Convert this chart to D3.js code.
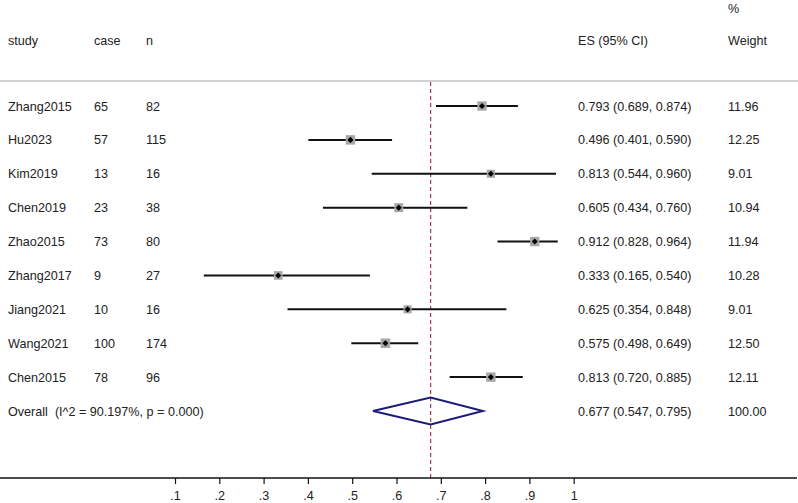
<!DOCTYPE html>
<html><head><meta charset="utf-8">
<script src="https://cdn.jsdelivr.net/npm/d3@7"></script>
<style>body{margin:0;background:#fff}svg{display:block;font-family:"Liberation Sans",Arial,sans-serif}</style>
</head><body>
<script>
const studies = ["Zhang2015","Hu2023","Kim2019","Chen2019","Zhao2015","Zhang2017","Jiang2021","Wang2021","Chen2015"];
const cases = [65,57,13,23,73,9,10,100,78];
const ns = [82,115,16,38,80,27,16,174,96];
const es = [0.793,0.496,0.813,0.605,0.912,0.333,0.625,0.575,0.813];
const lo = [0.689,0.401,0.544,0.434,0.828,0.165,0.354,0.498,0.720];
const hi = [0.874,0.590,0.960,0.760,0.964,0.540,0.848,0.649,0.885];
const weights = [11.96,12.25,9.01,10.94,11.94,10.28,9.01,12.50,12.11];
const overall = {label:"Overall  (I^2 = 90.197%, p = 0.000)", es:0.677, lo:0.547, hi:0.795, weight:100.00};
const tickValues = [0.1,0.2,0.3,0.4,0.5,0.6,0.7,0.8,0.9,1];
const tickLabels = [".1",".2",".3",".4",".5",".6",".7",".8",".9","1"];

const W=798,H=503, FS=12.6;
const svg=d3.select("body").append("svg").attr("width",W).attr("height",H);
const x=d3.scaleLinear().domain([0.1,1]).range([175,573.7]);
const rows=[...studies,"Overall"];
const y=d3.scalePoint().domain(rows).range([106,411]);
const axisY=478, topY=81;
const txt="#222";

// header
const hdr=svg.append("g").attr("font-size",FS).attr("fill",txt);
hdr.append("text").attr("x",8).attr("y",44.5).text("study");
hdr.append("text").attr("x",94).attr("y",44.5).text("case");
hdr.append("text").attr("x",146).attr("y",44.5).text("n");
hdr.append("text").attr("x",578).attr("y",44.5).text("ES (95% CI)");
hdr.append("text").attr("x",728).attr("y",13).text("%");
hdr.append("text").attr("x",728).attr("y",44.5).text("Weight");
svg.append("line").attr("x1",0).attr("x2",798).attr("y1",topY).attr("y2",topY).attr("stroke","#d0d0d0").attr("stroke-width",2);

// reference line
svg.append("line").attr("x1",x(overall.es)).attr("x2",x(overall.es)).attr("y1",topY+1).attr("y2",axisY)
  .attr("stroke","#a83c4c").attr("stroke-width",1.2).attr("stroke-dasharray","4,3");

const f3=d3.format(".3f"), f2=d3.format(".2f");
const g=svg.append("g");
studies.forEach((s,i)=>{
  const yy=y(s);
  g.append("line").attr("x1",x(lo[i])).attr("x2",x(hi[i])).attr("y1",yy).attr("y2",yy).attr("stroke","#111").attr("stroke-width",2);
  const side=2.7*Math.sqrt(weights[i]);
  g.append("rect").attr("x",x(es[i])-side/2).attr("y",yy-side/2).attr("width",side).attr("height",side).attr("fill","#a8a8a8");
  g.append("path").attr("d",d3.symbol(d3.symbolDiamond2,24)()).attr("transform",`translate(${x(es[i])},${yy})`).attr("fill","#000");
  const t=g.append("g").attr("font-size",FS).attr("fill",txt);
  t.append("text").attr("x",8).attr("y",yy+4.5).text(s);
  t.append("text").attr("x",94).attr("y",yy+4.5).text(cases[i]);
  t.append("text").attr("x",146).attr("y",yy+4.5).text(ns[i]);
  t.append("text").attr("x",578).attr("y",yy+4.5).text(`${f3(es[i])} (${f3(lo[i])}, ${f3(hi[i])})`);
  t.append("text").attr("x",728).attr("y",yy+4.5).text(f2(weights[i]));
});
// overall
const oy=y("Overall");
g.append("path").attr("d",`M${x(overall.lo)},${oy}L${x(overall.es)},${oy-13.5}L${x(overall.hi)},${oy}L${x(overall.es)},${oy+13.5}Z`)
  .attr("fill","none").attr("stroke","#1c1c78").attr("stroke-width",2);
const ot=g.append("g").attr("font-size",FS).attr("fill",txt);
ot.append("text").attr("x",8).attr("y",oy+4.5).style("white-space","pre").text(overall.label);
ot.append("text").attr("x",578).attr("y",oy+4.5).text(`${f3(overall.es)} (${f3(overall.lo)}, ${f3(overall.hi)})`);
ot.append("text").attr("x",728).attr("y",oy+4.5).text(f2(overall.weight));

// axis
svg.append("line").attr("x1",0).attr("x2",797).attr("y1",axisY).attr("y2",axisY).attr("stroke","#111").attr("stroke-width",1.5);
const ax=svg.append("g").attr("transform",`translate(0,${axisY})`)
  .call(d3.axisBottom(x).tickValues(tickValues).tickSize(6).tickPadding(7).tickFormat((d,i)=>tickLabels[i]));
ax.select(".domain").remove();
ax.selectAll(".tick line").attr("stroke","#111").attr("stroke-width",1.2);
ax.selectAll(".tick text").attr("font-size",FS).attr("fill",txt).attr("font-family","Liberation Sans, Arial, sans-serif");
</script>
</body></html>
